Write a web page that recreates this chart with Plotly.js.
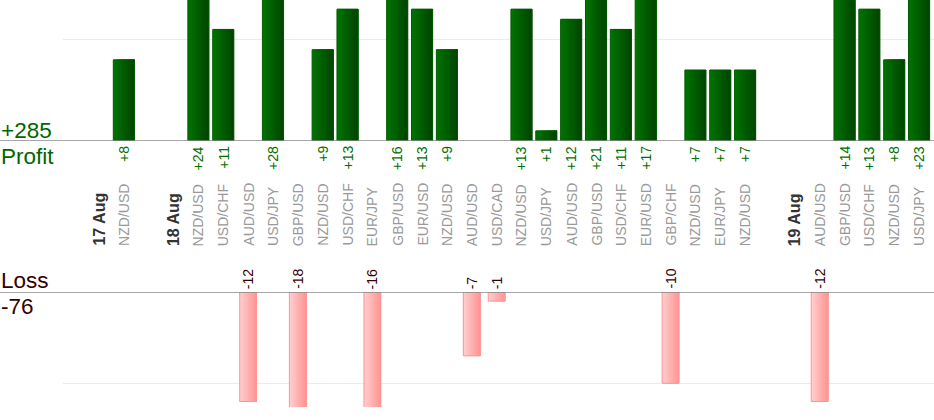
<!DOCTYPE html>
<html>
<head>
<meta charset="utf-8">
<script src="https://cdn.plot.ly/plotly-3.0.1.min.js"></script>
<style>
  html, body { margin: 0; padding: 0; background: #fff; }
  #chart { width: 934px; height: 420px; }
</style>
</head>
<body>
<div id="chart"></div>
<script>
// one slot per trade, plus the day markers and the empty gaps
const slots = ['17 Aug', 'NZD/USD', '', '18 Aug', 'NZD/USD', 'USD/CHF', 'AUD/USD', 'USD/JPY', 'GBP/USD',
  'NZD/USD', 'USD/CHF', 'EUR/JPY', 'GBP/USD', 'EUR/USD', 'NZD/USD', 'AUD/USD', 'USD/CAD', 'NZD/USD',
  'USD/JPY', 'AUD/USD', 'GBP/USD', 'USD/CHF', 'EUR/USD', 'GBP/CHF', 'NZD/USD', 'EUR/JPY', 'NZD/USD',
  '', '19 Aug', 'AUD/USD', 'GBP/USD', 'USD/CHF', 'NZD/USD', 'USD/JPY'];
const dateSlots = [0, 3, 28];
const profit = [null, 8, null, null, 24, 11, null, 28, null, 9, 13, null, 16, 13, 9, null, null, 13, 1,
  12, 21, 11, 17, null, 7, 7, 7, null, null, null, 14, 13, 8, 23];
const loss = [null, null, null, null, null, null, -12, null, -18, null, null, -16, null, null, null, -7, -1,
  null, null, null, null, null, null, -10, null, null, null, null, null, -12, null, null, null, null];

const FONT = 'Arial, "Liberation Sans", sans-serif';
const xs = slots.map((s, i) => i);
const sumOf = arr => arr.reduce((a, v) => a + (v || 0), 0);

function mezclar(c0, c1, t) {
  const r = c0.map((v, k) => Math.round(v + (c1[k] - v) * t));
  return `rgb(${r[0]},${r[1]},${r[2]})`;
}

// plotly has no gradient bars: each bar is a stack of overlapping strips,
// every strip runs from its own left edge to the right edge of the bar
function barrasDegradadas(valores, eje, ancho, c0, c1, borde) {
  const n = 10;
  const w = ancho / n;
  const trazas = [];
  for (let i = 0; i < n; i++) {
    trazas.push({
      type: 'bar', x: xs, y: valores, yaxis: eje,
      width: ancho - i * w, offset: -ancho / 2 + i * w,
      marker: { color: mezclar(c0, c1, i / (n - 1)), line: { width: 0 } },
      hoverinfo: 'skip'
    });
  }
  trazas.push({
    type: 'bar', x: xs, y: valores, yaxis: eje,
    width: ancho, offset: -ancho / 2,
    marker: { color: 'rgba(0,0,0,0)', line: { color: borde, width: 1 } },
    hoverinfo: 'skip'
  });
  return trazas;
}

const datos = [
  ...barrasDegradadas(profit, 'y', 0.85, [0, 114, 0], [0, 70, 0], '#005a00'),
  ...barrasDegradadas(loss, 'y2', 0.68, [255, 204, 204], [255, 150, 150], '#ff9494')
];

const notas = [];

slots.forEach((s, i) => {
  if (!s) return;
  const esFecha = dateSlots.includes(i);
  notas.push({
    x: i, xref: 'x', y: 172 / 420, yref: 'paper',
    text: esFecha ? '<b>' + s + '</b>' : s,
    textangle: -90, showarrow: false, xanchor: 'center', yanchor: 'bottom',
    font: { family: FONT, size: esFecha ? 16 : 14, color: esFecha ? '#333333' : '#999999' }
  });
});

profit.forEach((v, i) => {
  if (v == null) return;
  notas.push({
    x: i, xref: 'x', y: 0, yref: 'y', yshift: -3,
    text: '+' + v, textangle: -90, showarrow: false, xanchor: 'center', yanchor: 'top',
    font: { family: FONT, size: 14, color: '#007000' }
  });
});

loss.forEach((v, i) => {
  if (v == null) return;
  notas.push({
    x: i, xref: 'x', y: 0, yref: 'y2', yshift: 1,
    text: String(v), textangle: -90, showarrow: false, xanchor: 'center', yanchor: 'bottom',
    font: { family: FONT, size: 14, color: '#330000' }
  });
});

const rotulos = [
  { text: '+' + sumOf(profit), y: 290 / 420, color: '#006600' },
  { text: 'Profit', y: 264 / 420, color: '#006600' },
  { text: 'Loss', y: 140 / 420, color: '#330000' },
  { text: String(sumOf(loss)), y: 114 / 420, color: '#330000' }
];
rotulos.forEach(r => notas.push({
  x: 0, xref: 'paper', y: r.y, yref: 'paper', xanchor: 'left', yanchor: 'middle',
  text: r.text, showarrow: false, xshift: -1,
  font: { family: FONT, size: 22.5, color: r.color }
}));

const layout = {
  width: 934, height: 420,
  margin: { l: 0, r: 0, t: 0, b: 0 },
  paper_bgcolor: '#ffffff', plot_bgcolor: 'rgba(0,0,0,0)',
  showlegend: false, barmode: 'overlay',
  xaxis: {
    domain: [63 / 934, 1], range: [-1.45, 33.6],
    showticklabels: false, showgrid: false, zeroline: false, ticks: '', fixedrange: true
  },
  yaxis: {
    domain: [279 / 420, 1], range: [0, 13.9],
    tickvals: [10], showticklabels: false, ticks: '', gridcolor: '#ebebeb', zeroline: false
  },
  yaxis2: {
    domain: [13 / 420, 128 / 420], range: [-12.6, 0], anchor: 'x',
    tickvals: [-10], showticklabels: false, ticks: '', gridcolor: '#ebebeb', zeroline: false
  },
  shapes: [
    { type: 'line', xref: 'paper', x0: 0, x1: 1, yref: 'y', y0: 0, y1: 0, line: { color: '#888888', width: 1.5 } },
    { type: 'line', xref: 'paper', x0: 0, x1: 1, yref: 'y2', y0: 0, y1: 0, line: { color: '#888888', width: 1.5 } }
  ],
  annotations: notas
};

Plotly.newPlot('chart', datos, layout, { displayModeBar: false, staticPlot: true });
</script>
</body>
</html>
